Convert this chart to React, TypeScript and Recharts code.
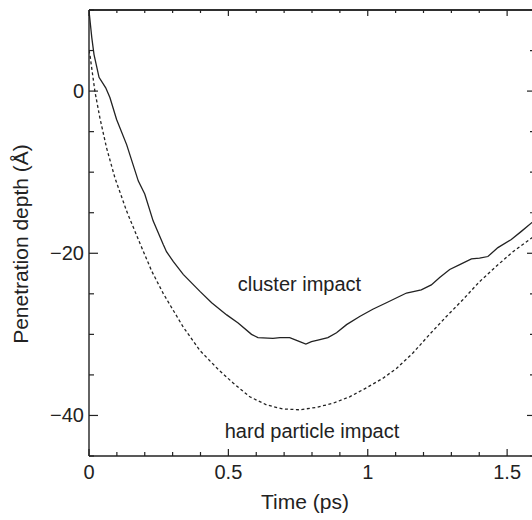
import React from "react"
import {
  ComposedChart, Line, XAxis, YAxis, ReferenceDot, ReferenceLine,
} from "recharts"

// cluster impact (solid), time in ps, depth in Å
const CLUSTER = [
  { t: 0, d: 9.9 }, { t: 0.01, d: 6.6 }, { t: 0.018, d: 4.5 }, { t: 0.036, d: 1.7 },
  { t: 0.06, d: 0.4 }, { t: 0.075, d: -0.8 }, { t: 0.099, d: -3.5 }, { t: 0.135, d: -6.6 },
  { t: 0.177, d: -11.1 }, { t: 0.2, d: -12.7 }, { t: 0.23, d: -16 }, { t: 0.266, d: -18.9 },
  { t: 0.278, d: -19.8 }, { t: 0.302, d: -21 }, { t: 0.338, d: -22.6 }, { t: 0.398, d: -24.7 },
  { t: 0.44, d: -26.1 }, { t: 0.494, d: -27.6 }, { t: 0.535, d: -28.6 }, { t: 0.583, d: -30 },
  { t: 0.606, d: -30.4 }, { t: 0.66, d: -30.5 }, { t: 0.685, d: -30.4 }, { t: 0.72, d: -30.4 },
  { t: 0.756, d: -30.9 }, { t: 0.778, d: -31.2 }, { t: 0.798, d: -30.9 }, { t: 0.821, d: -30.7 },
  { t: 0.857, d: -30.4 }, { t: 0.888, d: -29.8 }, { t: 0.924, d: -28.8 }, { t: 0.971, d: -27.8 },
  { t: 1.018, d: -26.9 }, { t: 1.067, d: -26.1 }, { t: 1.115, d: -25.3 }, { t: 1.139, d: -24.9 },
  { t: 1.192, d: -24.5 }, { t: 1.228, d: -23.9 }, { t: 1.258, d: -23.0 }, { t: 1.294, d: -22.0 },
  { t: 1.33, d: -21.4 }, { t: 1.372, d: -20.7 }, { t: 1.401, d: -20.6 }, { t: 1.431, d: -20.4 },
  { t: 1.467, d: -19.3 }, { t: 1.515, d: -18.3 }, { t: 1.551, d: -17.3 }, { t: 1.6, d: -15.9 },
]

// hard particle impact (dashed)
const HARD = [
  { t: 0, d: 5 }, { t: 0.004, d: 4.3 }, { t: 0.021, d: 0 }, { t: 0.039, d: -3.3 },
  { t: 0.063, d: -7 }, { t: 0.093, d: -10.7 }, { t: 0.135, d: -14.8 }, { t: 0.183, d: -18.8 },
  { t: 0.225, d: -22.2 }, { t: 0.267, d: -25 }, { t: 0.338, d: -29.1 }, { t: 0.398, d: -32 },
  { t: 0.463, d: -34.3 }, { t: 0.517, d: -36 }, { t: 0.577, d: -37.7 }, { t: 0.637, d: -38.7 },
  { t: 0.696, d: -39.2 }, { t: 0.756, d: -39.3 }, { t: 0.816, d: -39.0 }, { t: 0.875, d: -38.5 },
  { t: 0.935, d: -37.7 }, { t: 0.995, d: -36.6 }, { t: 1.055, d: -35.4 }, { t: 1.103, d: -34.2 },
  { t: 1.162, d: -32.3 }, { t: 1.222, d: -30.0 }, { t: 1.282, d: -27.8 }, { t: 1.342, d: -25.7 },
  { t: 1.401, d: -23.5 }, { t: 1.461, d: -21.6 }, { t: 1.521, d: -19.8 }, { t: 1.581, d: -18.3 },
  { t: 1.6, d: -17.8 },
]

const X_TICKS = [0, 0.1, 0.2, 0.3, 0.4, 0.5, 0.6, 0.7, 0.8, 0.9, 1, 1.1, 1.2, 1.3, 1.4, 1.5, 1.6]
const X_LABELS = [0, 0.5, 1, 1.5]
const Y_TICKS = [-45, -40, -35, -30, -25, -20, -15, -10, -5, 0, 5, 10]
const Y_LABELS = [-40, -20, 0]
const X_MAX = 1.6
const Y_MAX = 10

const ANNOTATIONS = [
  { t: 0.755, d: -23.8, text: "cluster impact" },
  { t: 0.8, d: -41.85, text: "hard particle impact" },
]

const FONT = "'Liberation Sans', Arial, sans-serif"
const INK = "#222"

// layout: plot box 446 x 446, right edge runs just past the 532px window (as in the cropped original)
const CHART_W = 545
const CHART_H = 520
const MARGIN = { top: 10, right: 10, bottom: 0, left: 0 }
const Y_AXIS_W = 89
const X_AXIS_H = 64
const PLOT_W = CHART_W - MARGIN.left - MARGIN.right - Y_AXIS_W
const PLOT_H = CHART_H - MARGIN.top - MARGIN.bottom - X_AXIS_H

const fmt = (v: number) => (v < 0 ? "\u2212" + Math.abs(v) : String(v))
const isLabel = (list: number[], v: number) => list.some(l => Math.abs(l - v) < 1e-6)

function seg(x1: number, y1: number, x2: number, y2: number, w = 1.2) {
  return <line x1={x1} y1={y1} x2={x2} y2={y2} stroke={INK} strokeWidth={w} />
}

// bottom axis tick: inward tick at bottom and mirrored one on the top frame
function BottomTick({ x, y, payload }: any) {
  const major = isLabel(X_LABELS, payload.value)
  const top = y - PLOT_H
  return (
    <g>
      {payload.value === 0 && seg(x, top, x + PLOT_W, top, 1.6)}
      {seg(x, y, x, y - (major ? 7 : 4))}
      {seg(x, top, x, top + (major ? 6 : 3))}
      {major && (
        <text x={x} y={y + 23} textAnchor="middle" fontSize={20} fontFamily={FONT} fill={INK}>
          {fmt(payload.value)}
        </text>
      )}
    </g>
  )
}

// left axis tick: inward tick at left and mirrored one on the right frame
function LeftTick({ x, y, payload }: any) {
  const major = isLabel(Y_LABELS, payload.value)
  const right = x + PLOT_W
  return (
    <g>
      {payload.value === Y_MAX && seg(right, y, right, y + PLOT_H, 1.4)}
      {seg(x, y, x + (major ? 9 : 5), y)}
      {seg(right, y, right - (major ? 8 : 5), y)}
      {major && (
        <text x={x - 5} y={y} textAnchor="end" dominantBaseline="central"
          fontSize={20} fontFamily={FONT} fill={INK}>
          {fmt(payload.value)}
        </text>
      )}
    </g>
  )
}

export default function App() {
  const axisLine = { stroke: INK, strokeWidth: 1.4 }

  return (
    <div style={{ position: "absolute", left: 0, top: 0, width: 532, height: 520, overflow: "hidden", background: "#fff" }}>
      <ComposedChart width={CHART_W} height={CHART_H} margin={MARGIN}>
        <XAxis
          xAxisId="b"
          dataKey="t"
          type="number"
          domain={[0, X_MAX]}
          allowDataOverflow
          ticks={X_TICKS}
          height={X_AXIS_H}
          axisLine={axisLine}
          tickLine={false}
          tickSize={0}
          tickMargin={0}
          interval={0}
          tick={BottomTick}
          label={{
            content: ({ viewBox }: any) => (
              <text x={viewBox.x + viewBox.width / 2 - 7} y={viewBox.y + 53} textAnchor="middle"
                fontSize={21} fontFamily={FONT} fill={INK}>
                Time (ps)
              </text>
            ),
          }}
        />
        <YAxis
          yAxisId="l"
          type="number"
          domain={[-45, Y_MAX]}
          allowDataOverflow
          ticks={Y_TICKS}
          width={Y_AXIS_W}
          axisLine={axisLine}
          tickLine={false}
          tickSize={0}
          tickMargin={0}
          interval={0}
          tick={LeftTick}
          label={{
            content: ({ viewBox }: any) => {
              const cx = viewBox.x + 28
              const cy = viewBox.y + viewBox.height / 2 + 11
              return (
                <text x={cx} y={cy} transform={`rotate(-90, ${cx}, ${cy})`} textAnchor="middle"
                  fontSize={21} fontFamily={FONT} fill={INK}>
                  Penetration depth (Å)
                </text>
              )
            },
          }}
        />

        {/* top frame edge */}
        <ReferenceLine xAxisId="b" yAxisId="l" y={Y_MAX} stroke={INK} strokeWidth={1.6} ifOverflow="visible" />

        <Line
          xAxisId="b"
          yAxisId="l"
          data={HARD}
          dataKey="d"
          type="linear"
          stroke={INK}
          strokeWidth={1.3}
          strokeDasharray="3 2.5"
          dot={false}
          isAnimationActive={false}
        />
        <Line
          xAxisId="b"
          yAxisId="l"
          data={CLUSTER}
          dataKey="d"
          type="linear"
          stroke={INK}
          strokeWidth={1.3}
          dot={false}
          isAnimationActive={false}
        />

        {ANNOTATIONS.map(a => (
          <ReferenceDot
            key={a.text}
            xAxisId="b"
            yAxisId="l"
            x={a.t}
            y={a.d}
            r={0}
            stroke="none"
            fill="none"
            label={{ value: a.text, position: "center", fontSize: 20, fontFamily: FONT, fill: INK }}
          />
        ))}
      </ComposedChart>
    </div>
  )
}
